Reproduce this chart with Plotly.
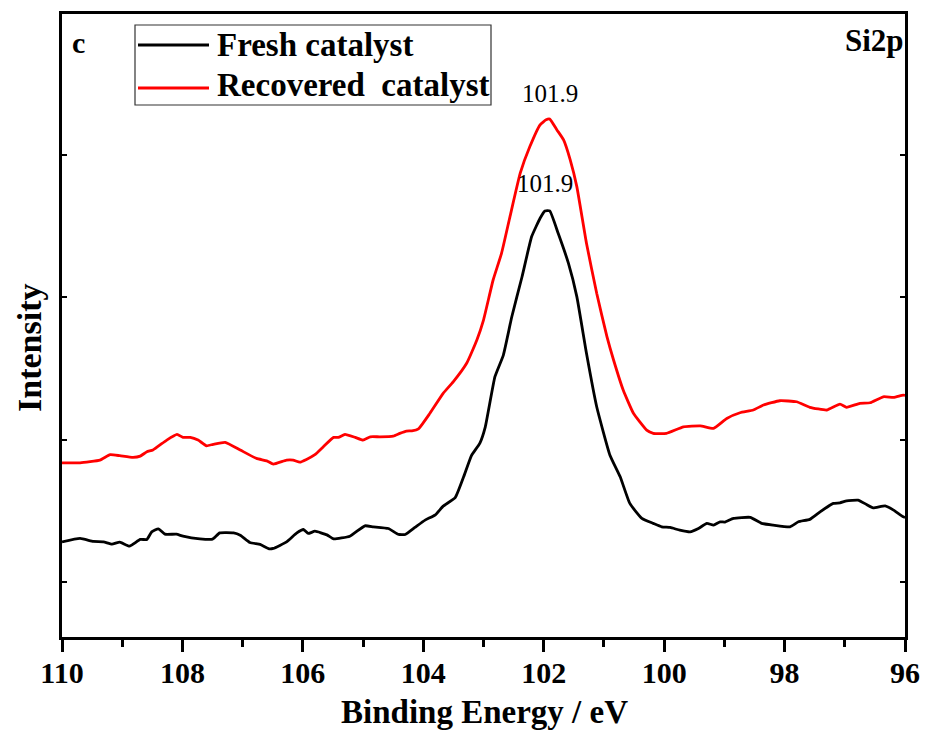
import numpy as np
import plotly.graph_objects as go

# ---------------- data ----------------
series_names = ["Fresh catalyst", "Recovered  catalyst"]
series_colors = ["#000000", "#ff0000"]

fresh_be = [110.00, 109.70, 109.48, 109.31, 109.17, 109.04, 108.88, 108.70, 108.59, 108.51,
            108.40, 108.29, 108.10, 107.99, 107.71, 107.50, 107.38, 107.15, 107.04, 106.88,
            106.71, 106.56, 106.49, 106.27, 106.10, 105.99, 105.91, 105.80, 105.60, 105.49,
            105.22, 104.97, 104.83, 104.58, 104.41, 104.30, 104.14, 103.97, 103.80, 103.67,
            103.47, 103.33, 103.20, 103.06, 102.97, 102.81, 102.67, 102.53, 102.36, 102.20,
            102.06, 101.98, 101.90, 101.76, 101.59, 101.45, 101.29, 101.12, 100.90, 100.73,
            100.57, 100.37, 100.18, 100.04, 99.90, 99.74, 99.57, 99.43, 99.29, 99.18,
            99.07, 98.99, 98.85, 98.57, 98.38, 98.19, 97.91, 97.77, 97.58, 97.41,
            97.19, 97.08, 96.97, 96.78, 96.64, 96.53, 96.33, 96.19, 96.03, 96.00]
fresh_int = [1.283, 1.307, 1.286, 1.283, 1.267, 1.281, 1.253, 1.300, 1.300, 1.353,
             1.375, 1.337, 1.337, 1.323, 1.304, 1.302, 1.346, 1.346, 1.330, 1.279,
             1.265, 1.234, 1.237, 1.283, 1.346, 1.370, 1.342, 1.358, 1.332, 1.304,
             1.323, 1.396, 1.389, 1.377, 1.335, 1.335, 1.384, 1.436, 1.473, 1.534,
             1.594, 1.740, 1.889, 1.977, 2.091, 2.443, 2.595, 2.864, 3.145, 3.427,
             3.556, 3.607, 3.607, 3.450, 3.240, 3.005, 2.607, 2.232, 1.892, 1.740,
             1.553, 1.448, 1.413, 1.389, 1.384, 1.365, 1.353, 1.377, 1.413, 1.401,
             1.424, 1.422, 1.448, 1.455, 1.413, 1.401, 1.389, 1.424, 1.441, 1.494,
             1.553, 1.557, 1.571, 1.576, 1.546, 1.522, 1.536, 1.506, 1.459, 1.455]

recov_be = [110.00, 109.70, 109.37, 109.20, 109.04, 108.82, 108.70, 108.59, 108.49, 108.26,
            108.09, 107.99, 107.87, 107.74, 107.60, 107.49, 107.29, 107.04, 106.77, 106.60,
            106.49, 106.27, 106.16, 106.05, 105.94, 105.80, 105.66, 105.49, 105.41, 105.30,
            105.13, 105.00, 104.88, 104.72, 104.50, 104.39, 104.28, 104.19, 104.08, 103.89,
            103.67, 103.50, 103.28, 103.11, 103.00, 102.84, 102.70, 102.56, 102.39, 102.23,
            102.06, 101.96, 101.90, 101.78, 101.67, 101.56, 101.45, 101.29, 101.12, 100.95,
            100.84, 100.68, 100.51, 100.29, 100.18, 99.96, 99.68, 99.40, 99.18, 98.96,
            98.74, 98.52, 98.35, 98.08, 97.80, 97.58, 97.30, 97.08, 96.97, 96.75,
            96.58, 96.36, 96.19, 96.03, 96.00]
recov_int = [1.838, 1.838, 1.857, 1.895, 1.888, 1.876, 1.885, 1.916, 1.928, 1.998,
             2.038, 2.017, 2.017, 1.998, 1.958, 1.968, 1.982, 1.928, 1.869, 1.852,
             1.829, 1.857, 1.857, 1.843, 1.862, 1.895, 1.951, 2.017, 2.017, 2.038,
             2.017, 1.998, 2.021, 2.021, 2.026, 2.045, 2.061, 2.063, 2.077, 2.186,
             2.326, 2.408, 2.537, 2.701, 2.841, 3.122, 3.310, 3.567, 3.872, 4.059,
             4.212, 4.247, 4.252, 4.176, 4.106, 3.966, 3.778, 3.380, 3.029, 2.724,
             2.560, 2.349, 2.186, 2.068, 2.045, 2.045, 2.091, 2.098, 2.080, 2.150,
             2.190, 2.209, 2.244, 2.274, 2.267, 2.228, 2.209, 2.251, 2.228, 2.256,
             2.260, 2.302, 2.298, 2.314, 2.312]

peak_labels = ["101.9", "101.9"]
x_ticks = [110, 108, 106, 104, 102, 100, 98, 96]
y_ticks = [1, 2, 3, 4]

FONT = "'Liberation Serif', 'Times New Roman', Times, serif"

fig = go.Figure()
all_x = [fresh_be, recov_be]
all_y = [fresh_int, recov_int]
for name, col, xs, ys in zip(series_names, series_colors, all_x, all_y):
    fig.add_trace(go.Scatter(x=xs, y=ys, mode="lines", name=name,
                             line=dict(color=col, width=2.8, shape="spline", smoothing=0.4),
                             showlegend=False))

# peak labels
yshifts = [12, 10]
for lab, xs, ys, ys_ in zip(peak_labels, all_x, all_y, yshifts):
    i = int(np.argmax(ys))
    fig.add_annotation(x=xs[i], y=ys[i], text=lab, showarrow=False, xanchor="center",
                       yanchor="bottom", yshift=ys_,
                       font=dict(family=FONT, size=25, color="black"))

# plot area in px: x 62..905, y 14..637
def px2paper(px, py):
    return (px - 62) / 843.0, 1 - (py - 14) / 623.0

# manual legend (box, line samples, labels)
bx0, by0 = px2paper(135, 25)
bx1, by1 = px2paper(491, 105)
fig.add_shape(type="rect", xref="paper", yref="paper", x0=bx0, y0=by1, x1=bx1, y1=by0,
              line=dict(color="#333333", width=1.2), fillcolor="white", layer="above")
for k, (name, col) in enumerate(zip(series_names, series_colors)):
    ly = [45, 88][k]
    ty = [45, 85][k]
    lx0, lyp = px2paper(138, ly)
    lx1, _ = px2paper(209, ly)
    fig.add_shape(type="line", xref="paper", yref="paper", x0=lx0, x1=lx1, y0=lyp, y1=lyp,
                  line=dict(color=col, width=2.8), layer="above")
    tx, typ = px2paper(215, ty)
    fig.add_annotation(xref="paper", yref="paper", x=tx, y=typ, text=name.replace("  ", "&nbsp; "),
                       showarrow=False, xanchor="left", yanchor="middle",
                       font=dict(family=FONT, size=33, color="black", weight="bold"))

cx, cy = px2paper(70, 42)
fig.add_annotation(xref="paper", yref="paper", x=cx, y=cy, text="c", showarrow=False,
                   xanchor="left", yanchor="middle",
                   font=dict(family=FONT, size=30, color="black", weight="bold"))
sx, sy = px2paper(906, 40)
fig.add_annotation(xref="paper", yref="paper", x=sx, y=sy, text="Si2p", showarrow=False,
                   xanchor="right", yanchor="middle",
                   font=dict(family=FONT, size=31, color="black", weight="bold"))

# y-axis title (placed as in the reference, slightly below the axis centre)
ix, iy = px2paper(29, 348)
fig.add_annotation(xref="paper", yref="paper", x=ix, y=iy, text="Intensity", showarrow=False,
                   textangle=-90, xanchor="center", yanchor="middle",
                   font=dict(family=FONT, size=34, color="black", weight="bold"))

# x-axis title as annotation for exact placement
tx_, ty_ = px2paper(484, 712)
fig.add_annotation(xref="paper", yref="paper", x=tx_, y=ty_, text="Binding Energy / eV",
                   showarrow=False, xanchor="center", yanchor="middle",
                   font=dict(family=FONT, size=33, color="black", weight="bold"))

fig.update_layout(
    width=925, height=734,
    margin=dict(l=62, r=20, t=14, b=97, autoexpand=False),
    paper_bgcolor="white", plot_bgcolor="white",
    xaxis=dict(range=[110, 96], tickvals=x_ticks, ticktext=[str(v) for v in x_ticks],
               automargin=False, ticklabelstandoff=-5,
               ticks="outside", ticklen=12, tickwidth=2.5, tickcolor="black",
               minor=dict(dtick=1, ticks="outside", ticklen=7, tickwidth=2.5, tickcolor="black"),
               showline=True, linewidth=3, linecolor="black", mirror=True,
               showgrid=False, zeroline=False,
               tickfont=dict(family=FONT, size=30, color="black", weight="bold")),
    xaxis2=dict(range=[110, 96], overlaying="x", side="top", anchor="y", dtick=1, tick0=96,
                automargin=False,
                ticks="inside", ticklen=5, tickwidth=2, tickcolor="black",
                showticklabels=False, showgrid=False, zeroline=False, showline=False),
    yaxis=dict(range=[0.615, 4.99], tickvals=y_ticks, showticklabels=False, automargin=False,
               ticks="inside", ticklen=5, tickwidth=2, tickcolor="black",
               showline=True, linewidth=3, linecolor="black", mirror="ticks",
               showgrid=False, zeroline=False),
)

fig.write_html("out.html")
